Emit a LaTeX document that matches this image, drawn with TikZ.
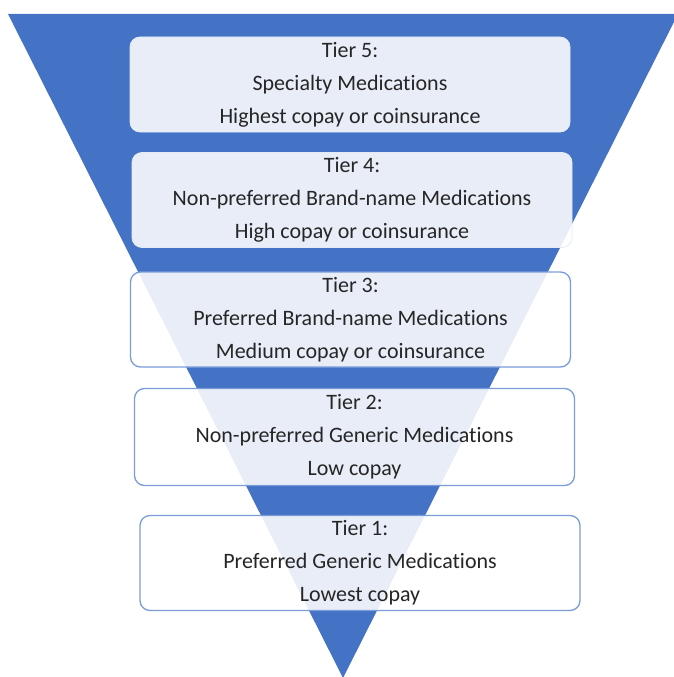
\documentclass[tikz,border=0pt]{standalone}
\usepackage{fontspec}
\setmainfont{Carlito}[Ligatures=NoCommon]
\definecolor{funnelblue}{HTML}{4472C4}
\definecolor{tierline}{HTML}{7A9CDB}
\tikzstyle{tier}=[rounded corners=10pt, fill=white, fill opacity=0.88, text opacity=1,
  draw=tierline, line width=1.3pt, minimum width=440pt, minimum height=95pt,
  align=center, text=black!85, font=\fontsize{22}{33}\selectfont]
\tikzstyle{top tier}=[tier, draw=white!80!tierline, line width=0.8pt]

\begin{document}
\begin{tikzpicture}[x=1pt, y=-1pt]
  \useasboundingbox (0,0) rectangle (674,677);
  \clip (0,0) rectangle (674,677);

  % the inverted funnel behind the tiers
  \fill[funnelblue] (8,14) -- (678,14) -- (343,678) -- cycle;

  \node[top tier] (tier5) at (350,84.5)
    {Tier 5:\\Specialty Medications\\Highest copay or coinsurance};
  \node[top tier] (tier4) at (352,200)
    {Tier 4:\\Non-preferred Brand-name Medications\\High copay or coinsurance};
  \node[tier] (tier3) at (350.5,319.5)
    {Tier 3:\\Preferred Brand-name Medications\\Medium copay or coinsurance};
  \node[tier, minimum height=97pt] (tier2) at (354.5,437)
    {Tier 2:\\Non-preferred Generic Medications\\Low copay};
  \node[tier] (tier1) at (360,563)
    {Tier 1:\\Preferred Generic Medications\\Lowest copay};
\end{tikzpicture}
\end{document}
